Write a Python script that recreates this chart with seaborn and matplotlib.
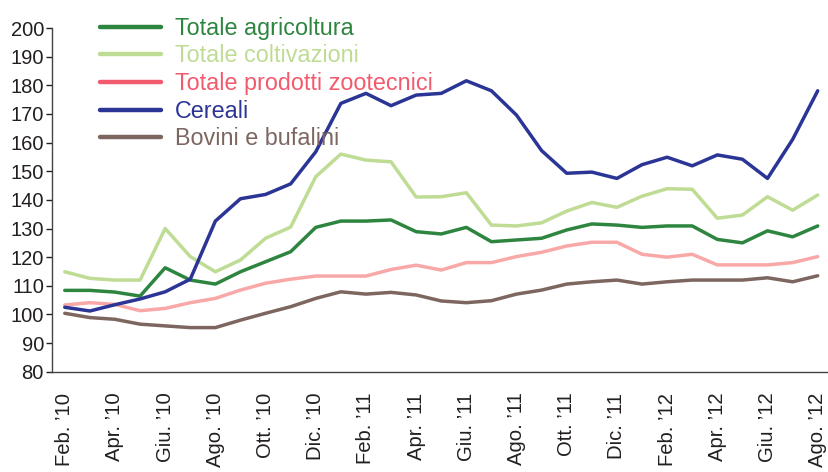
import pandas as pd
import matplotlib
matplotlib.use("Agg")
import matplotlib.pyplot as plt
import seaborn as sns
from matplotlib.lines import Line2D

# months Feb 2010 .. Aug 2012
months = pd.date_range("2010-02-01", "2012-08-01", freq="MS")

agricoltura = [108.4, 108.4, 107.8, 106.4, 116.3, 112.0, 110.6, 114.9, 118.4, 121.9,
               130.4, 132.6, 132.6, 133.0, 128.9, 128.1, 130.4, 125.4, 126.0, 126.6,
               129.5, 131.6, 131.2, 130.4, 130.9, 130.9, 126.2, 125.0, 129.2, 127.1, 130.9]
coltivazioni = [114.9, 112.6, 112.0, 112.0, 130.0, 120.2, 114.9, 119.0, 126.6, 130.5,
                148.1, 156.0, 153.9, 153.3, 141.0, 141.1, 142.5, 131.2, 130.9, 132.0,
                136.1, 139.1, 137.4, 141.3, 143.9, 143.7, 133.6, 134.7, 141.1, 136.4, 141.7]
zootecnici = [103.3, 104.1, 103.5, 101.3, 102.1, 104.1, 105.6, 108.5, 110.9, 112.3,
              113.4, 113.4, 113.4, 115.7, 117.2, 115.5, 118.1, 118.1, 120.2, 121.7,
              123.9, 125.2, 125.2, 121.0, 120.0, 121.0, 117.3, 117.3, 117.3, 118.1, 120.2]
cereali = [102.5, 101.2, 103.4, 105.4, 107.9, 112.3, 132.6, 140.4, 141.9, 145.6,
           156.8, 173.7, 177.2, 172.9, 176.6, 177.2, 181.6, 178.1, 169.6, 157.2,
           149.3, 149.7, 147.5, 152.3, 154.9, 151.9, 155.7, 154.2, 147.5, 161.1, 178.1]
bovini = [100.4, 98.9, 98.3, 96.6, 96.0, 95.4, 95.4, 98.0, 100.4, 102.7,
          105.6, 107.9, 107.1, 107.7, 106.8, 104.7, 104.1, 104.8, 107.1, 108.5,
          110.6, 111.4, 112.0, 110.6, 111.4, 112.0, 112.0, 112.0, 112.8, 111.4, 113.5]

series_names = ["Totale agricoltura", "Totale coltivazioni", "Totale prodotti zootecnici",
                "Cereali", "Bovini e bufalini"]
line_colors = ["#2e8540", "#bfdc94", "#f9a8a8", "#2b3595", "#7d6660"]
legend_colors = ["#2e8540", "#bfdc94", "#f25a6e", "#2b3595", "#7d6660"]

month_abbr = {2: "Feb.", 4: "Apr.", 6: "Giu.", 8: "Ago.", 10: "Ott.", 12: "Dic."}

df = pd.DataFrame({"x": range(len(months))})
for name, vals in zip(series_names, [agricoltura, coltivazioni, zootecnici, cereali, bovini]):
    df[name] = vals
long_df = df.melt(id_vars="x", var_name="serie", value_name="indice")

sns.set_style("white")
plt.rcParams["font.family"] = ["Liberation Sans", "DejaVu Sans"]

fig = plt.figure(figsize=(8.29, 4.72), dpi=100)
ax = fig.add_axes([0.063, 0.2125, 0.937, 0.728])

sns.lineplot(data=long_df, x="x", y="indice", hue="serie", hue_order=series_names,
             palette=line_colors, linewidth=2.5, ax=ax, legend=False)

ax.set_ylim(80, 200)
ax.set_yticks(range(80, 201, 10))
ax.set_xlim(-0.5, len(months) - 0.55)

tick_pos = [i for i, m in enumerate(months) if m.month % 2 == 0]
tick_lab = [f"{month_abbr[months[i].month]} \u2019{months[i].year % 100:02d}" for i in tick_pos]
ax.set_xticks(tick_pos)
ax.set_xticklabels(tick_lab, rotation=90, fontsize=14.6, color="#231f20")
ax.tick_params(axis="x", length=0, pad=15)
ax.tick_params(axis="y", length=4, width=1, direction="out", labelsize=14.5,
               colors="#231f20", pad=2, left=True)
ax.set_xlabel("")
ax.set_ylabel("")

for side in ["top", "right"]:
    ax.spines[side].set_visible(False)
for side in ["left", "bottom"]:
    ax.spines[side].set_color("#444444")
    ax.spines[side].set_linewidth(1)

handles = [Line2D([0], [0], color=c, lw=3.2, solid_capstyle="round") for c in legend_colors]
leg = ax.legend(handles, series_names, loc="upper left", bbox_to_anchor=(0.05, 1.06),
                frameon=False, fontsize=16.8, handlelength=2.6, handletextpad=0.6,
                labelspacing=0.2, borderaxespad=0)
for txt, c in zip(leg.get_texts(), legend_colors):
    txt.set_color(c)

fig.savefig("out.png", dpi=100)
